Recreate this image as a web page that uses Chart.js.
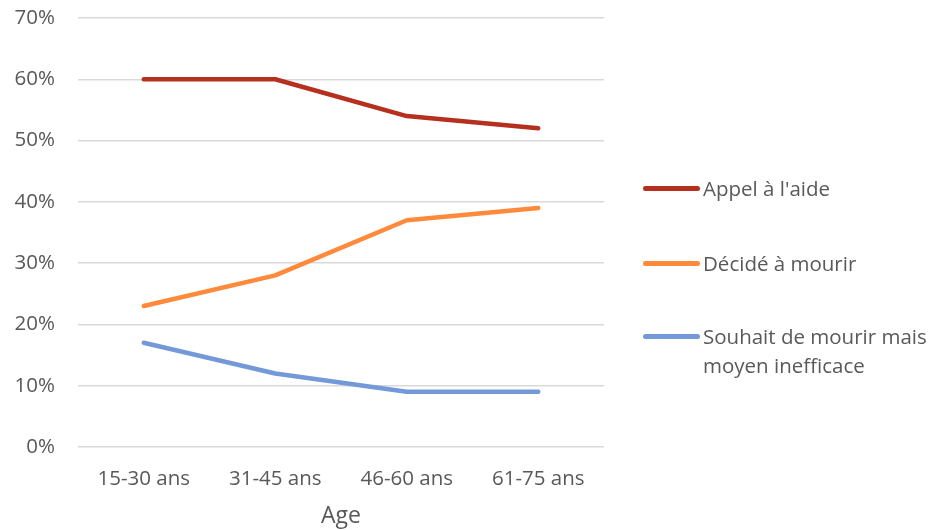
<!DOCTYPE html>
<html>
<head>
<meta charset="utf-8">
<script src="https://cdn.jsdelivr.net/npm/chart.js@4"></script>
<style>
  body { margin: 0; background: #fff; }
  #wrap { position: relative; width: 932px; height: 530px; }
  #legende { position: absolute; left: 643px; top: 0; font-family: "Open Sans", sans-serif; font-size: 20.5px; color: #595959; }
  .item { position: absolute; left: 0; width: 290px; line-height: 29px; }
  .item span.trait { position: absolute; left: 0; top: 12px; width: 57px; height: 5px; border-radius: 3px; }
  .item span.txt { position: absolute; left: 60px; white-space: nowrap; }
</style>
</head>
<body>
<div id="wrap">
  <canvas id="lineChart" width="932" height="530"></canvas>
  <div id="legende"></div>
</div>
<script>
// data van de grafiek
const categories = ['15-30 ans', '31-45 ans', '46-60 ans', '61-75 ans'];
const appel = [60, 60, 54, 52];
const decide = [23, 28, 37, 39];
const souhait = [17, 12, 9, 9];
const seriesNames = ['Appel à l\'aide', 'Décidé à mourir', ['Souhait de mourir mais', 'moyen inefficace']];
const colors = ['#B5301E', '#FF8A3B', '#7399D8'];
const yTicks = [0, 10, 20, 30, 40, 50, 60, 70];

const tekst = '#595959';
const lettertype = '"Open Sans", sans-serif';

const datasets = [appel, decide, souhait].map((d, i) => ({
  label: Array.isArray(seriesNames[i]) ? seriesNames[i].join(' ') : seriesNames[i],
  data: d,
  borderColor: colors[i],
  backgroundColor: colors[i],
  borderWidth: 4.5,
  pointRadius: 0,
  tension: 0,
  borderCapStyle: 'round',
  borderJoinStyle: 'round'
}));

const config = {
  type: 'line',
  data: { labels: categories, datasets: datasets },
  options: {
    responsive: false,
    animation: false,
    layout: { padding: { left: 0, right: 328, top: 18, bottom: 0 } },
    plugins: { legend: { display: false }, tooltip: { enabled: false } },
    scales: {
      x: {
        offset: true,
        afterFit: (scale) => { scale.height = 83; },
        grid: { display: false, drawTicks: false },
        border: { display: false },
        ticks: { color: tekst, font: { family: lettertype, size: 20.5 }, padding: 20 },
        title: { display: true, text: 'Age', color: tekst, font: { family: lettertype, size: 23 }, padding: { top: 0, bottom: 0 } }
      },
      y: {
        min: 0,
        max: 70,
        afterBuildTicks: (scale) => { scale.ticks = yTicks.map(v => ({ value: v })); },
        afterFit: (scale) => { scale.width = 78; scale.paddingTop = 0; scale.paddingBottom = 0; },
        grid: { color: '#D9D9D9', lineWidth: 1.5, drawTicks: false },
        border: { display: false },
        ticks: { color: tekst, font: { family: lettertype, size: 20.5 }, padding: 23, callback: v => v + '%' }
      }
    }
  }
};

new Chart(document.getElementById('lineChart'), config);

// legende rechts
const legendTops = [174, 249, 322];
const leg = document.getElementById('legende');
seriesNames.forEach((n, i) => {
  const div = document.createElement('div');
  div.className = 'item';
  div.style.top = legendTops[i] + 'px';
  const lines = Array.isArray(n) ? n : [n];
  div.innerHTML = '<span class="trait" style="background:' + colors[i] + '"></span><span class="txt">' + lines.join('<br>') + '</span>';
  leg.appendChild(div);
});
</script>
</body>
</html>
